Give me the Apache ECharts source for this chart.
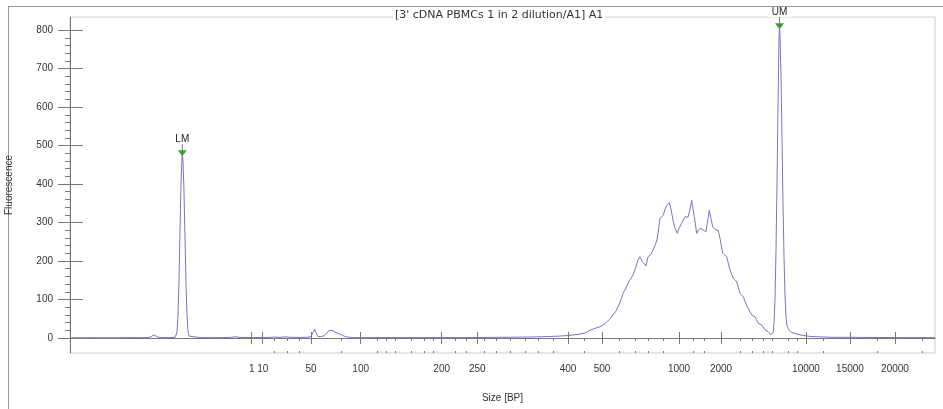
<!DOCTYPE html>
<html>
<head>
<meta charset="utf-8">
<script src="https://cdn.jsdelivr.net/npm/echarts@6/dist/echarts.min.js"></script>
<style>
html,body{margin:0;padding:0;background:#fff;}
#chart{width:943px;height:409px;}
</style>
</head>
<body>
<div id="chart"></div>
<script>
// Migration time (s) of each sample of the electropherogram
const times = [40.0,42.0,44.0,46.0,47.5,48.0,48.2,48.4,48.6,48.8,49.2,50.0,50.5,50.6,50.7,50.8,50.9,51.0,51.1,51.2,51.23,51.3,51.4,51.5,51.6,51.7,51.8,51.9,52.0,53.0,54.5,56.0,56.5,57.0,58.5,60.0,60.5,61.0,61.5,62.0,63.0,63.8,64.1,64.3,64.47,64.6,64.8,65.1,65.4,65.7,65.9,66.1,66.3,66.6,66.8,67.1,67.4,67.8,68.5,71.0,75.0,79.0,82.0,84.0,86.0,87.5,89.0,90.0,91.0,91.5,92.0,92.5,93.0,93.4,93.7,94.0,94.3,94.6,94.8,95.1,95.3,95.6,95.8,96.1,96.3,96.6,96.8,97.0,97.2,97.4,97.6,97.8,98.1,98.3,98.5,98.7,98.9,99.0,99.2,99.33,99.5,99.7,99.93,100.1,100.3,100.5,100.73,100.9,101.17,101.3,101.5,101.8,102.0,102.17,102.3,102.43,102.67,102.8,103.0,103.3,103.6,103.8,103.93,104.1,104.27,104.5,104.67,104.83,105.0,105.27,105.67,106.0,106.33,106.67,107.0,107.33,107.73,108.17,108.5,108.83,109.17,109.5,109.83,110.1,110.33,110.4,110.5,110.6,110.7,110.8,110.9,110.95,111.0,111.1,111.2,111.3,111.4,111.5,111.6,111.7,111.9,112.2,113.0,114.0,116.0,119.0,123.0,126.5];
// Fluorescence at each sample
const fluor = [0.5,0.8,0.5,1.0,0.8,2,5,8,5,2,1,1,1.5,4,15,60,150,280,400,470,480,460,380,260,140,60,18,5,2,1,0.8,1.5,3,1.5,1,1.5,2.5,1.5,3,2,1.5,2,4,14,23,14,4,3,6,13,20,23,19,14,12,9,5,2,1,1,1,1,1.5,2,2.5,3.5,5,7,10,13,20,25,29,35,42,50,60,70,81,100,116,130,142,155,164,185,203,211,200,195,187,211,218,229,240,255,290,311,308,319,335,345,352,335,306,285,272,285,298,305,315,314,335,358,335,315,272,278,285,281,276,310,332,310,289,282,281,279,259,220,211,177,155,146,116,107,81,60,55,38,34,21,16,8,16,40,100,230,400,600,780,810,790,680,520,350,210,110,55,32,20,14,8,4,2,1.5,1,1];

// Size ladder: labelled sizes and their migration times
const sizeLabels = ['1','10','50','100','200','250','400','500','1000','2000','10000','15000','20000'];
const sizeTimes = [58.17,59.27,64.10,69.07,77.17,80.73,89.80,93.20,100.90,105.10,113.60,118.00,122.50];
const minorTimes = [60.47,61.77,62.93,67.13,70.73,71.67,72.57,74.13,75.40,76.30,78.50,79.60,81.40,82.60,84.00,85.50,86.80,88.30,91.40,94.90,96.50,97.80,99.30,102.30,103.40,107.00,108.20,109.30,110.20,111.80,112.70,115.30,120.70,125.20];
const yMajor = [0,100,200,300,400,500,600,700,800];
const yMinor = [20,40,60,80,120,140,160,180,220,240,260,280,320,340,360,380,420,440,460,480,520,540,560,580,620,640,660,680,720,740,760,780];
const markerNames = ['LM','UM'];
const titleText = "[3' cDNA PBMCs 1 in 2 dilution/A1] A1";

const X_MIN = 40, X_MAX = 126.5, Y_MIN = -39, Y_MAX = 834;
const FONT = 'Arial, "Liberation Sans", sans-serif';
const AX = '#777';

const seriesData = times.map((t, i) => [t, fluor[i]]);

// locate marker peaks from the data
function peakIn(lo, hi) {
  let bi = -1;
  for (let i = 0; i < times.length; i++) {
    if (times[i] >= lo && times[i] <= hi && (bi < 0 || fluor[i] > fluor[bi])) bi = i;
  }
  return [times[bi], fluor[bi]];
}
const peaks = [peakIn(X_MIN, 60), peakIn(108, X_MAX)];

const markData = [];
peaks.forEach((p, k) => {
  markData.push({
    coord: p, symbol: 'rect', symbolSize: [1, 8], symbolOffset: [0, -6],
    itemStyle: { color: '#777' }, label: { show: false }
  });
  markData.push({
    coord: p, name: markerNames[k], symbol: 'triangle', symbolRotate: 180,
    symbolSize: [9, 6], symbolOffset: [0, 0],
    itemStyle: { color: '#3d9a3d' },
    label: {
      show: true, position: 'top', distance: 6, formatter: markerNames[k],
      color: '#222', fontSize: 10, fontFamily: FONT,
      backgroundColor: '#fff', padding: [0, 4, 0, 4]
    }
  });
});

function xAxisBase(extra) {
  return Object.assign({
    type: 'value', min: X_MIN, max: X_MAX, position: 'bottom', offset: 0,
    splitLine: { show: false }, axisLine: { show: false },
    axisLabel: { show: false }
  }, extra);
}
function yAxisBase(extra) {
  return Object.assign({
    type: 'value', min: Y_MIN, max: Y_MAX, position: 'left', offset: 0,
    splitLine: { show: false }, axisLine: { show: false },
    axisLabel: { show: false }
  }, extra);
}

const option = {
  animation: false,
  backgroundColor: '#fff',
  title: {
    text: titleText, left: 393, top: 10,
    backgroundColor: '#fff', padding: [0, 2],
    textStyle: { fontSize: 11, fontWeight: 'normal', color: '#333', fontFamily: '"DejaVu Sans", Verdana, sans-serif' }
  },
  grid: {
    left: 70, right: 8, top: 17, bottom: 56,
    outerBoundsMode: 'none', containLabel: false,
    show: true, borderColor: '#cfcfcf', borderWidth: 1, backgroundColor: '#fff'
  },
  graphic: [
    { type: 'line', shape: { x1: 8, y1: 6.5, x2: 943, y2: 6.5 }, style: { stroke: '#999', lineWidth: 1 }, silent: true },
    { type: 'line', shape: { x1: 8.5, y1: 6, x2: 8.5, y2: 409 }, style: { stroke: '#999', lineWidth: 1 }, silent: true }
  ],
  xAxis: [
    xAxisBase({
      name: 'Size [BP]', nameLocation: 'middle', nameGap: 40,
      nameTextStyle: { fontSize: 10, color: '#333', fontFamily: FONT },
      axisLine: { show: true, lineStyle: { color: AX, width: 1 } },
      axisTick: { show: true, customValues: sizeTimes, length: 6, inside: false, lineStyle: { color: AX } },
      axisLabel: {
        show: true, customValues: sizeTimes, margin: 11,
        fontSize: 10, color: '#333', fontFamily: FONT,
        formatter: function (v) {
          for (let i = 0; i < sizeTimes.length; i++) if (Math.abs(sizeTimes[i] - v) < 1e-6) return sizeLabels[i];
          return '';
        }
      }
    }),
    xAxisBase({ axisTick: { show: true, customValues: sizeTimes, length: 6, inside: true, lineStyle: { color: AX } } }),
    xAxisBase({ axisTick: { show: true, customValues: minorTimes, length: 3, inside: false, lineStyle: { color: AX } } }),
    xAxisBase({ axisTick: { show: true, customValues: minorTimes, length: 2, inside: true, lineStyle: { color: AX } } })
  ],
  yAxis: [
    yAxisBase({
      name: 'Fluorescence', nameLocation: 'middle', nameRotate: 90, nameGap: 56,
      nameTextStyle: { fontSize: 10, color: '#333', fontFamily: FONT },
      axisLine: { show: true, lineStyle: { color: AX, width: 1 } },
      axisTick: { show: true, customValues: yMajor, length: 12, inside: false, lineStyle: { color: AX } },
      axisLabel: { show: true, customValues: yMajor, margin: 17, fontSize: 10, color: '#333', fontFamily: FONT }
    }),
    yAxisBase({ axisTick: { show: true, customValues: yMajor, length: 13, inside: true, lineStyle: { color: AX } } }),
    yAxisBase({ axisTick: { show: true, customValues: yMinor, length: 5, inside: false, lineStyle: { color: AX } } })
  ],
  series: [{
    type: 'line', xAxisIndex: 0, yAxisIndex: 0,
    data: seriesData, showSymbol: false, smooth: false,
    lineStyle: { color: '#7d72c8', width: 1 },
    itemStyle: { color: '#7d72c8' },
    markPoint: { data: markData, z: 10 }
  }]
};

const chart = echarts.init(document.getElementById('chart'), null, { renderer: 'canvas' });
chart.setOption(option);
</script>
</body>
</html>
